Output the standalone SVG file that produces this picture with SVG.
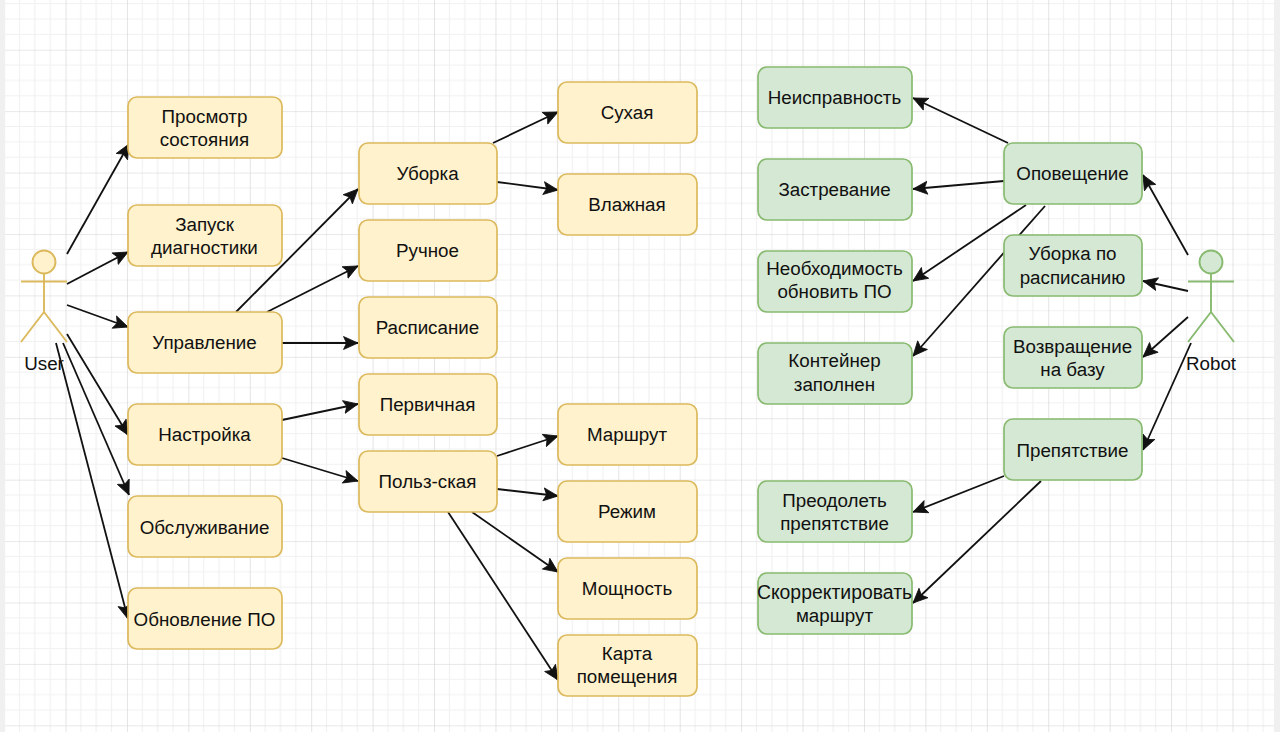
<svg xmlns="http://www.w3.org/2000/svg" width="1280" height="732" viewBox="0 0 1280 732">
<style>
text{font-family:"Liberation Sans",Arial,sans-serif;font-size:18.8px;fill:#111;text-anchor:middle}
.y{fill:#fff2cc;stroke:#dcb95c;stroke-width:1.7}
.g{fill:#d5e8d4;stroke:#88ba70;stroke-width:1.7}
.ya{fill:#fff2cc;stroke:#dcb95c;stroke-width:1.9}
.ga{fill:#d5e8d4;stroke:#88ba70;stroke-width:1.9}
.limb{fill:none}
#connectors line{stroke:#111;stroke-width:1.8;marker-end:url(#arrow)}
</style>
<defs>
<marker id="arrow" markerUnits="userSpaceOnUse" markerWidth="18" markerHeight="16" refX="15" refY="7.5" orient="auto">
<path d="M15 7.5L0.500 1L3.500 7.5L0.500 14Z" fill="#111" stroke="#111" stroke-width="0.8" stroke-linejoin="round"/>
</marker>
<pattern id="grid" patternUnits="userSpaceOnUse" x="4.1" y="-11.7" width="61.42" height="61.42">
<path d="M15.35 0V61.42M30.71 0V61.42M46.06 0V61.42M0 15.35H61.42M0 30.71H61.42M0 46.06H61.42" stroke="#f1f1f1" stroke-width="1.2" fill="none"/>
<path d="M0 0V61.42M0 0H61.42" stroke="#d2d2d2" stroke-width="1.2" fill="none"/>
</pattern>
</defs>
<rect width="1280" height="732" fill="#f0f0f0"/>
<rect x="5" y="0" width="1269" height="732" fill="#fff"/>
<rect x="5" y="0" width="1269" height="732" fill="url(#grid)"/>
<g id="connectors">
<line x1="67" y1="254" x2="129" y2="144"/>
<line x1="67" y1="284" x2="128" y2="252"/>
<line x1="67" y1="305" x2="128" y2="327"/>
<line x1="67" y1="334" x2="128" y2="435"/>
<line x1="63" y1="343" x2="129" y2="495"/>
<line x1="56" y1="343" x2="128" y2="619"/>
<line x1="236" y1="312" x2="358" y2="189"/>
<line x1="267" y1="312" x2="358" y2="266"/>
<line x1="282" y1="343" x2="358" y2="343"/>
<line x1="282" y1="420" x2="358" y2="404"/>
<line x1="282" y1="458" x2="358" y2="481"/>
<line x1="493" y1="143" x2="558" y2="112"/>
<line x1="497" y1="182" x2="558" y2="190"/>
<line x1="497" y1="456" x2="558" y2="436"/>
<line x1="497" y1="489" x2="558" y2="496"/>
<line x1="472" y1="512" x2="558" y2="572"/>
<line x1="448" y1="512" x2="558" y2="680"/>
<line x1="1008" y1="143" x2="913" y2="98"/>
<line x1="1004" y1="181" x2="913" y2="189"/>
<line x1="1026" y1="205" x2="913" y2="281"/>
<line x1="1045" y1="206" x2="913" y2="356"/>
<line x1="1188" y1="255" x2="1143" y2="175"/>
<line x1="1188" y1="291" x2="1143" y2="281"/>
<line x1="1188" y1="317" x2="1143" y2="357"/>
<line x1="1191" y1="343" x2="1143" y2="450"/>
<line x1="1004" y1="476" x2="913" y2="512"/>
<line x1="1041" y1="481" x2="913" y2="603"/>
</g>
<g id="user"><circle class="ya" cx="44" cy="262" r="11.5"/><path class="ya limb" style="fill:none" d="M44 273.500V312M21 281.500H67M21 342L44 312L67 342"/><text x="44" y="369.500">User</text></g>
<g id="robot"><circle class="ga" cx="1211" cy="262" r="11.5"/><path class="ga limb" style="fill:none" d="M1211 273.500V312M1188 281.500H1234M1188 342L1211 312L1234 342"/><text x="1211" y="369.500">Robot</text></g>
<g id="n1"><rect class="y" x="128" y="97" width="154" height="61" rx="9"/><text x="204.500" y="122.500">Просмотр</text><text x="204.500" y="145.500">состояния</text></g>
<g id="n2"><rect class="y" x="128" y="205" width="154" height="61" rx="9"/><text x="204.500" y="230.500">Запуск</text><text x="204.500" y="253.500">диагностики</text></g>
<g id="n3"><rect class="y" x="128" y="312" width="154" height="61" rx="9"/><text x="204.500" y="349">Управление</text></g>
<g id="n4"><rect class="y" x="128" y="404" width="154" height="61" rx="9"/><text x="204.500" y="441">Настройка</text></g>
<g id="n5"><rect class="y" x="128" y="496" width="154" height="61" rx="9"/><text x="204.500" y="533.500">Обслуживание</text></g>
<g id="n6"><rect class="y" x="128" y="588" width="154" height="61" rx="9"/><text x="204.500" y="625.500">Обновление ПО</text></g>
<g id="n7"><rect class="y" x="359" y="143" width="138" height="61" rx="9"/><text x="427.500" y="180">Уборка</text></g>
<g id="n8"><rect class="y" x="359" y="220" width="138" height="61" rx="9"/><text x="427.500" y="257">Ручное</text></g>
<g id="n9"><rect class="y" x="359" y="297" width="138" height="61" rx="9"/><text x="427.500" y="334">Расписание</text></g>
<g id="n10"><rect class="y" x="359" y="374" width="138" height="61" rx="9"/><text x="427.500" y="410.500">Первичная</text></g>
<g id="n11"><rect class="y" x="359" y="451" width="138" height="61" rx="9"/><text x="427.500" y="487.500">Польз-ская</text></g>
<g id="n12"><rect class="y" x="558" y="82" width="139" height="61" rx="9"/><text x="627" y="119">Сухая</text></g>
<g id="n13"><rect class="y" x="558" y="174" width="139" height="61" rx="9"/><text x="627" y="211">Влажная</text></g>
<g id="n14"><rect class="y" x="558" y="404" width="139" height="61" rx="9"/><text x="627" y="441">Маршрут</text></g>
<g id="n15"><rect class="y" x="558" y="481" width="139" height="61" rx="9"/><text x="627" y="517.500">Режим</text></g>
<g id="n16"><rect class="y" x="558" y="558" width="139" height="61" rx="9"/><text x="627" y="594.500">Мощность</text></g>
<g id="n17"><rect class="y" x="558" y="635" width="139" height="61" rx="9"/><text x="627" y="659.500">Карта</text><text x="627" y="682.500">помещения</text></g>
<g id="n18"><rect class="g" x="758" y="67" width="154" height="61" rx="9"/><text x="834.500" y="103.500">Неисправность</text></g>
<g id="n19"><rect class="g" x="758" y="159" width="154" height="61" rx="9"/><text x="834.500" y="195.500">Застревание</text></g>
<g id="n20"><rect class="g" x="758" y="251" width="154" height="61" rx="9"/><text x="834.500" y="275">Необходимость</text><text x="834.500" y="298">обновить ПО</text></g>
<g id="n21"><rect class="g" x="758" y="343" width="154" height="61" rx="9"/><text x="834.500" y="367">Контейнер</text><text x="834.500" y="390.500">заполнен</text></g>
<g id="n22"><rect class="g" x="758" y="481" width="154" height="61" rx="9"/><text x="834.500" y="506.500">Преодолеть</text><text x="834.500" y="529.500">препятствие</text></g>
<g id="n23"><rect class="g" x="758" y="573" width="154" height="61" rx="9"/><text x="834.500" y="598.500" style="font-size:19.4px">Скорректировать</text><text x="834.500" y="621.500">маршрут</text></g>
<g id="n24"><rect class="g" x="1004" y="143" width="138" height="61" rx="9"/><text x="1072.500" y="180">Оповещение</text></g>
<g id="n25"><rect class="g" x="1004" y="235" width="138" height="61" rx="9"/><text x="1072.500" y="260">Уборка по</text><text x="1072.500" y="283.500">расписанию</text></g>
<g id="n26"><rect class="g" x="1004" y="327" width="138" height="61" rx="9"/><text x="1072.500" y="352.500">Возвращение</text><text x="1072.500" y="375.500">на базу</text></g>
<g id="n27"><rect class="g" x="1004" y="419" width="138" height="61" rx="9"/><text x="1072.500" y="456.500">Препятствие</text></g>
</svg>
